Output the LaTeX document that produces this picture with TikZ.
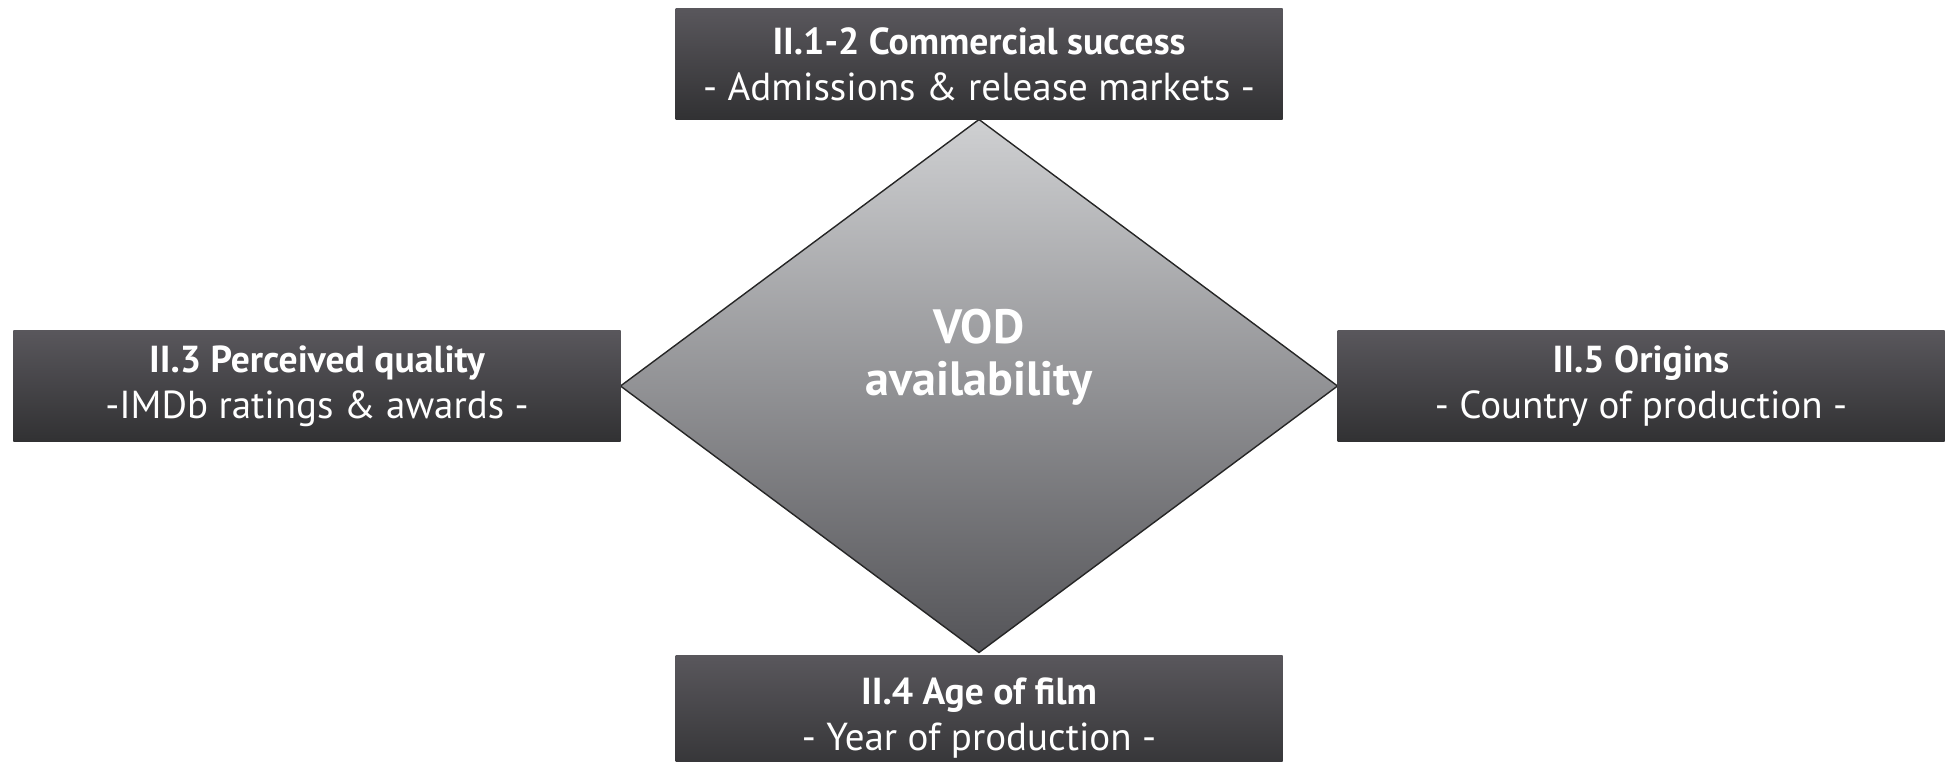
\documentclass[tikz,border=0pt]{standalone}
\usepackage{fontspec}
\setmainfont{PT Sans}
\usepackage{xcolor}
\usetikzlibrary{positioning,shapes.geometric}

\definecolor{boxtop}{HTML}{59575C}
\definecolor{boxbottom}{HTML}{313133}
\definecolor{hubtop}{HTML}{CFD0D2}
\definecolor{hubbottom}{HTML}{545458}
\newcommand{\factortitle}[1]{{\fontsize{10.7}{13.1}\selectfont\bfseries #1}}

\begin{document}
\begin{tikzpicture}[every node/.style={text=white, align=center, inner sep=0pt, outer sep=0pt},
  factor/.style={rectangle, minimum width=6.07cm, minimum height=1.11cm, top color=boxtop, bottom color=boxbottom, font=\fontsize{11.1}{13.1}\selectfont},
  hub/.style={diamond, minimum width=7.17cm, minimum height=5.33cm, draw=black!85, line width=0.4pt, top color=hubtop, bottom color=hubbottom},
  hubtext/.style={font=\fontsize{13.7}{14.8}\selectfont\bfseries}]
  \useasboundingbox (0,0) rectangle (19.48,-7.61);
  \node[hub](vod) at (9.79,-3.86){};
  \node[hubtext](vodlabel) at ([yshift=0.29cm]vod.center){VOD\\availability};
  \node[factor, above=0pt of vod](success){\factortitle{II.1-2 Commercial success}\\- Admissions \& release markets -};
  \node[factor, left=0pt of vod](quality){\factortitle{II.3 Perceived quality}\\-IMDb ratings \& awards -};
  \node[factor, right=0pt of vod](origins){\factortitle{II.5 Origins}\\- Country of production -};
  % bottom box runs off the page edge
  \node[factor, minimum height=1.26cm, below=0.03cm of vod](age){\factortitle{II.4 Age of film}\\- Year of production -};
\end{tikzpicture}
\end{document}
